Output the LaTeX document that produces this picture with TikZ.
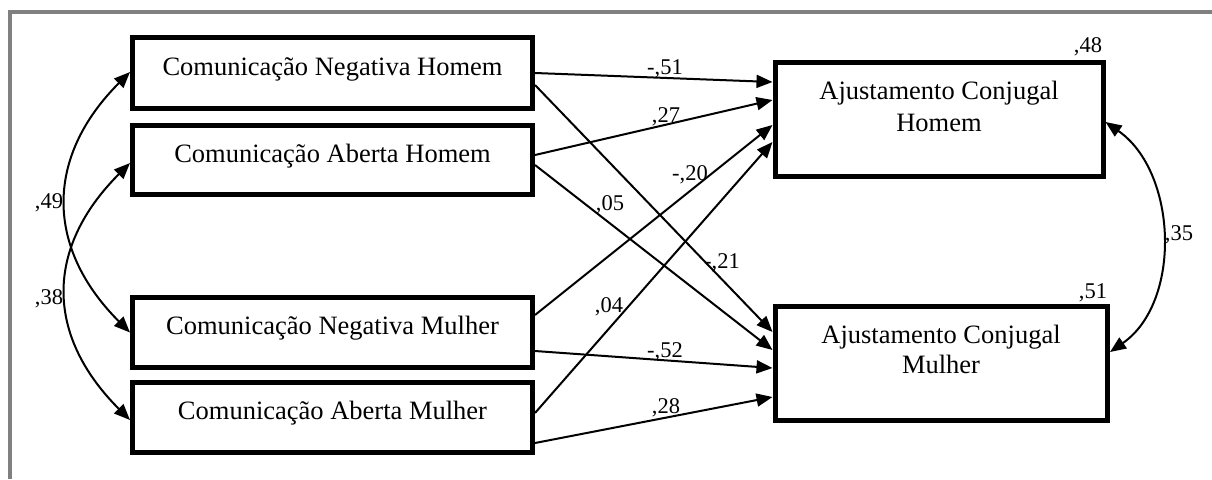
\documentclass[tikz,border=0pt]{standalone}
\usepackage{fontspec}
\setmainfont{Liberation Serif}
\usetikzlibrary{arrows.meta}
\definecolor{framegray}{RGB}{128,128,128}
\begin{document}
\begin{tikzpicture}[x=1pt,y=-1pt,
  box/.style={draw=black, line width=5pt, inner sep=0pt,
    font=\fontsize{26.5}{31}\selectfont, text height=18pt, text depth=14pt},
  txt/.style={font=\fontsize{26.5}{31}\selectfont, inner sep=0pt, anchor=base},
  coef/.style={font=\fontsize{22.5}{26}\selectfont, inner sep=0pt, anchor=base},
  reg/.style={line width=2pt, -{Triangle[length=16pt,width=13pt]}},
  covar/.style={line width=2pt, {Triangle[length=16pt,width=13pt]}-{Triangle[length=16pt,width=13pt]}},
]
\useasboundingbox (0,0) rectangle (1212,479);
% frame
\coordinate (fa) at (10,479);
\coordinate (fb) at (10,12);
\coordinate (fc) at (1212,12);
\draw[framegray, line width=4pt] (fa) -- (fb) -- (fc);

% boxes
\node[box, minimum width=400pt, minimum height=71pt] (b1) at (332.5,73) {Comunicação Negativa Homem};
\node[box, minimum width=400pt, minimum height=69pt] (b2) at (332.5,160) {Comunicação Aberta Homem};
\node[box, minimum width=400pt, minimum height=70pt] (b3) at (332.5,332.5) {Comunicação Negativa Mulher};
\node[box, minimum width=400pt, minimum height=70pt] (b4) at (332.5,417.5) {Comunicação Aberta Mulher};
\node[box, minimum width=328pt, minimum height=114pt] (b5) at (939,119) {};
\node[box, minimum width=332.5pt, minimum height=114pt] (b6) at (941.25,363.5) {};
\node[txt] (t5a) at (939,99.3) {Ajustamento Conjugal};
\node[txt] (t5b) at (939,131) {Homem};
\node[txt] (t6a) at (941,343) {Ajustamento Conjugal};
\node[txt] (t6b) at (941,373) {Mulher};

% regression paths
\draw[reg] ([yshift=0pt]b1.east) -- ([yshift=37pt]b5.west);
\draw[reg] ([yshift=5pt]b2.east) -- ([yshift=19pt]b5.west);
\draw[reg] ([yshift=17.5pt]b3.east) -- ([yshift=-6pt]b5.west);
\draw[reg] ([yshift=4.5pt]b4.east) -- ([yshift=-23pt]b5.west);
\draw[reg] ([yshift=-12pt]b1.east) -- ([yshift=31.5pt]b6.west);
\draw[reg] ([yshift=-5pt]b2.east) -- ([yshift=13.5pt]b6.west);
\draw[reg] ([yshift=-18.5pt]b3.east) -- ([yshift=-4.5pt]b6.west);
\draw[reg] ([yshift=-25.5pt]b4.east) -- ([yshift=-33.5pt]b6.west);

% covariances
\draw[covar] ([yshift=1pt]b1.west) .. controls +(-85,85) and +(-85,-85) .. (b3.west);
\draw[covar] ([yshift=-3pt]b2.west) .. controls +(-85,85) and +(-85,-85) .. ([yshift=-2.5pt]b4.west);
\draw[covar] ([yshift=-3pt]b5.east) .. controls +(72,50) and +(72,-50) .. ([yshift=11.5pt]b6.east);

% coefficients
\node[coef] (c1) at (665,74) {-,51};
\node[coef] (c2) at (666,122) {,27};
\node[coef] (c3) at (690,180) {-,20};
\node[coef] (c4) at (610,210) {,05};
\node[coef] (c5) at (722,268) {-,21};
\node[coef] (c6) at (609,312) {,04};
\node[coef] (c7) at (665,357) {-,52};
\node[coef] (c8) at (666,413) {,28};
\node[coef] (r1) at (1088,52) {,48};
\node[coef] (r2) at (1093,298) {,51};
\node[coef] (k1) at (1179,240) {,35};
\node[coef] (k2) at (49,208) {,49};
\node[coef] (k3) at (49,304) {,38};
\end{tikzpicture}
\end{document}
